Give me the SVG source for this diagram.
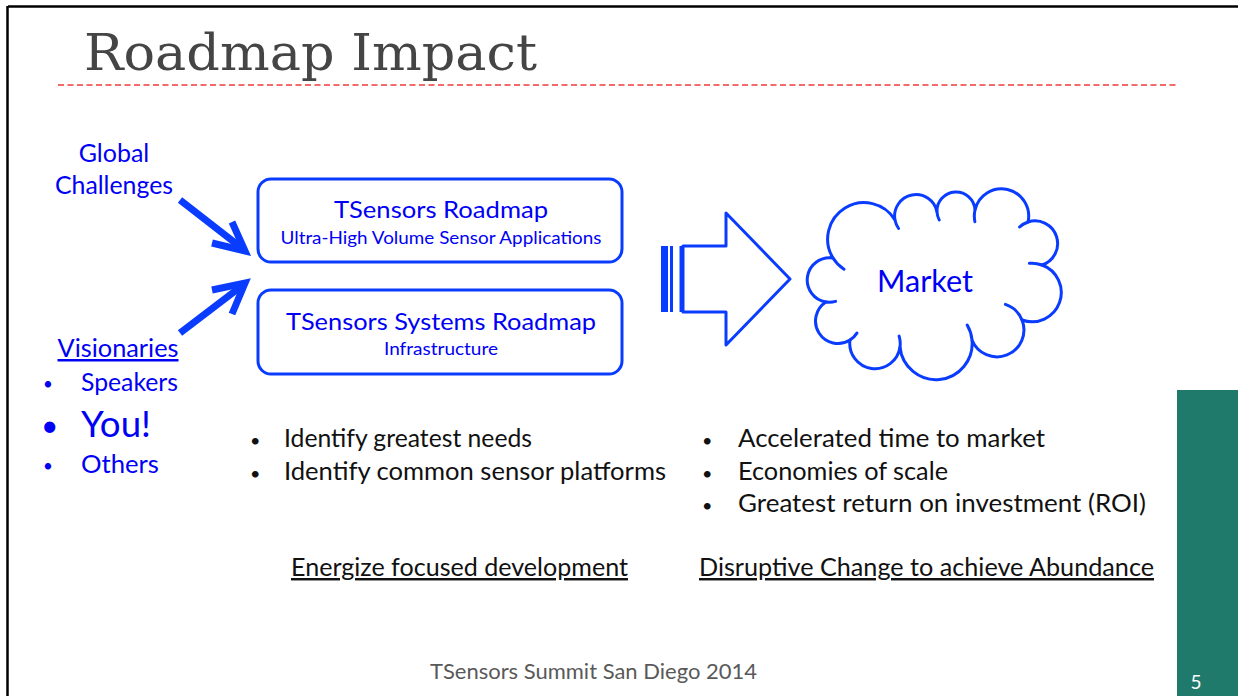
<svg xmlns="http://www.w3.org/2000/svg" width="1238" height="696" viewBox="0 0 1238 696">
<style>
.s{font-family:Lato,"Open Sans","DejaVu Sans",sans-serif}
.b{fill:#0000f5}
.k{fill:#111}
.box{fill:#fff;stroke:#0a3cff;stroke-width:3}
.ar{stroke:#0a3cff;stroke-width:7;fill:none;stroke-linecap:butt;stroke-linejoin:miter}
.cl{fill:none;stroke:#0a3cff;stroke-width:3;stroke-linecap:round}
</style>
<rect width="1238" height="696" fill="#fff"/>
<g id="frame">
<line x1="8" y1="6.5" x2="1238" y2="6.5" stroke="#000" stroke-width="2.5"/>
<line x1="7.5" y1="6" x2="7.5" y2="696" stroke="#000" stroke-width="2.5"/>
<line x1="58" y1="85" x2="1179" y2="85" stroke="#f03a3a" stroke-width="1.5" stroke-dasharray="6,3.5"/>
<rect x="1177" y="390" width="61" height="306" fill="#1f7a6c"/>
<text x="1196" y="689" text-anchor="middle" class="s" font-size="19" fill="#fff">5</text>
</g>
<g id="title">
<text x="84" y="70" font-family="'DejaVu Serif',serif" font-size="51" fill="#454545" textLength="453" lengthAdjust="spacingAndGlyphs">Roadmap Impact</text>
</g>
<g id="global-challenges">
<text x="114" y="162" text-anchor="middle" class="s b" font-size="25">Global</text>
<text x="114" y="194" text-anchor="middle" class="s b" font-size="25" textLength="118" lengthAdjust="spacingAndGlyphs">Challenges</text>
</g>
<g id="visionaries">
<text x="118" y="357" text-anchor="middle" class="s b" font-size="25" text-decoration="underline" textLength="121" lengthAdjust="spacingAndGlyphs">Visionaries</text>
<text x="43" y="390" class="s b" font-size="17">•</text>
<text x="81" y="391" class="s b" font-size="25" textLength="97" lengthAdjust="spacingAndGlyphs">Speakers</text>
<text x="41" y="436" class="s b" font-size="30">•</text>
<text x="81" y="437" class="s b" font-size="36" textLength="70" lengthAdjust="spacingAndGlyphs">You!</text>
<text x="43" y="472" class="s b" font-size="17">•</text>
<text x="81" y="473" class="s b" font-size="25" textLength="78" lengthAdjust="spacingAndGlyphs">Others</text>
</g>
<g id="roadmap">
<rect class="box" x="258" y="179" width="364" height="83" rx="13"/>
<text x="441" y="218" text-anchor="middle" class="s b" font-size="24" textLength="214" lengthAdjust="spacingAndGlyphs">TSensors Roadmap</text>
<text x="441" y="244" text-anchor="middle" class="s b" font-size="16.5" textLength="321" lengthAdjust="spacingAndGlyphs">Ultra-High Volume Sensor Applications</text>
</g>
<g id="systems-roadmap">
<rect class="box" x="258" y="290" width="364" height="84" rx="13"/>
<text x="441" y="330" text-anchor="middle" class="s b" font-size="24" textLength="310" lengthAdjust="spacingAndGlyphs">TSensors Systems Roadmap</text>
<text x="441" y="355" text-anchor="middle" class="s b" font-size="17" textLength="114" lengthAdjust="spacingAndGlyphs">Infrastructure</text>
</g>
<g id="market">
<path d="M826,302 A1 1 0 0 1 833,258 A1 1 0 0 1 895,220 A1 1 0 0 1 937,212 A1 1 0 0 1 975,210 A1 1 0 0 1 1028,222 A1 1 0 0 1 1042,265 A1 1 0 0 1 1022,320 A1 1 0 0 1 972,340 A1 1 0 0 1 900,347 A1 1 0 0 1 850,340 A1 1 0 0 1 826,302 Z" fill="#fff" stroke="#0a3cff" stroke-width="3"/>
<path class="cl" d="M835.6,301.4 A22.3 22.3 0 0 1 826,302 M844,269.3 A36.3 36.3 0 0 1 833,258 M898.6,228.5 A21.4 21.4 0 0 1 895,220 M939.2,219.9 A19 19 0 0 1 937,212 M974.9,221.7 A27.2 27.2 0 0 1 975,210 M1019.6,227 A22.6 22.6 0 0 1 1028,222 M1029.4,263.3 A29.3 29.3 0 0 1 1042,265 M1005.4,304.4 A26.9 26.9 0 0 1 1022,320 M967.2,325.1 A36.2 36.2 0 0 1 972,340 M899.1,336.1 A25.2 25.2 0 0 1 900,347 M856.9,333.1 A22.4 22.4 0 0 1 850,340"/>
<text x="925" y="292" text-anchor="middle" class="s b" font-size="31" textLength="96" lengthAdjust="spacingAndGlyphs">Market</text>
</g>
<g id="connectors">
<line class="ar" x1="180" y1="200" x2="243" y2="249"/>
<polyline class="ar" points="232,222 245,251 212,243"/>
<line class="ar" x1="180" y1="333" x2="243" y2="285"/>
<polyline class="ar" points="212,290 245,283 232,314"/>
<path d="M683,246 H726 V213 L790,279 L726,345 V312 H683 Z" fill="#fff" stroke="#0a3cff" stroke-width="3" stroke-linejoin="round"/>
<rect x="661" y="246" width="7" height="66" fill="#0a3cff"/>
<line x1="671.5" y1="246" x2="671.5" y2="312" stroke="#0a3cff" stroke-width="3"/>
<line x1="681" y1="246" x2="681" y2="312" stroke="#0a3cff" stroke-width="3"/>
</g>
<g id="needs">
<text x="250" y="447" class="s k" font-size="18">•</text>
<text x="284" y="447" class="s k" font-size="24.5" textLength="248" lengthAdjust="spacingAndGlyphs">Identify greatest needs</text>
<text x="250" y="480" class="s k" font-size="18">•</text>
<text x="284" y="480" class="s k" font-size="24.5" textLength="382" lengthAdjust="spacingAndGlyphs">Identify common sensor platforms</text>
<text x="291" y="576" class="s k" font-size="24.5" text-decoration="underline" textLength="337" lengthAdjust="spacingAndGlyphs">Energize focused development</text>
</g>
<g id="benefits">
<text x="702" y="447" class="s k" font-size="18">•</text>
<text x="738" y="447" class="s k" font-size="24.5" textLength="307" lengthAdjust="spacingAndGlyphs">Accelerated time to market</text>
<text x="702" y="480" class="s k" font-size="18">•</text>
<text x="738" y="480" class="s k" font-size="24.5" textLength="210" lengthAdjust="spacingAndGlyphs">Economies of scale</text>
<text x="702" y="512" class="s k" font-size="18">•</text>
<text x="738" y="512" class="s k" font-size="24.5" textLength="408" lengthAdjust="spacingAndGlyphs">Greatest return on investment (ROI)</text>
<text x="699" y="576" class="s k" font-size="24.5" text-decoration="underline" textLength="455" lengthAdjust="spacingAndGlyphs">Disruptive Change to achieve Abundance</text>
</g>
<g id="footer">
<text x="430" y="679" class="s" font-size="21.5" fill="#595959" textLength="327" lengthAdjust="spacingAndGlyphs">TSensors Summit San Diego 2014</text>
</g>
</svg>
